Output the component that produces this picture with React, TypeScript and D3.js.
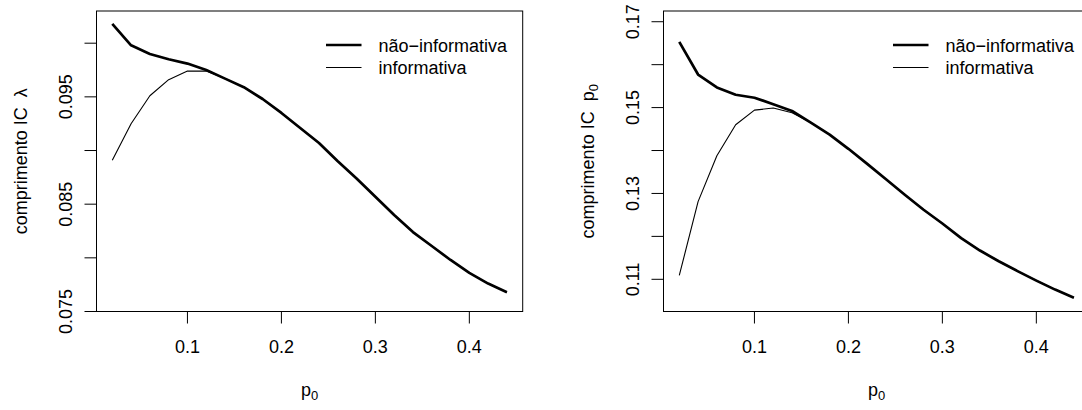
import React from 'react';
import * as d3 from 'd3';

// p0 grid
const p0 = [0.02, 0.04, 0.06, 0.08, 0.1, 0.12, 0.14, 0.16, 0.18, 0.2, 0.22,
  0.24, 0.26, 0.28, 0.3, 0.32, 0.34, 0.36, 0.38, 0.4, 0.42, 0.44];

// comprimento IC lambda
const lambdaNaoInf = [0.1018, 0.0998, 0.0990, 0.0985, 0.0981, 0.0975, 0.0967, 0.0959,
  0.0948, 0.0935, 0.0921, 0.0907, 0.0890, 0.0874, 0.0857, 0.0840, 0.0824, 0.0811,
  0.0798, 0.0786, 0.0776, 0.0768];
const lambdaInf = [0.0891, 0.0925, 0.0951, 0.0966, 0.0974, 0.0974, 0.0967, 0.0959,
  0.0948, 0.0935, 0.0921, 0.0907, 0.0890, 0.0874, 0.0857, 0.0840, 0.0824, 0.0811,
  0.0798, 0.0786, 0.0776, 0.0768];

// comprimento IC p0
const pNaoInf = [0.1653, 0.1577, 0.1547, 0.1530, 0.1523, 0.1508, 0.1492, 0.1465,
  0.1437, 0.1404, 0.1369, 0.1333, 0.1297, 0.1262, 0.1230, 0.1196, 0.1167, 0.1142,
  0.1119, 0.1097, 0.1076, 0.1057];
const pInf = [0.1109, 0.1281, 0.1388, 0.1460, 0.1494, 0.1499, 0.1488, 0.1465,
  0.1437, 0.1404, 0.1369, 0.1333, 0.1297, 0.1262, 0.1230, 0.1196, 0.1167, 0.1142,
  0.1119, 0.1097, 0.1076, 0.1057];

const xTicks = [0.1, 0.2, 0.3, 0.4];
const lambdaTicks = [0.075, 0.08, 0.085, 0.09, 0.095, 0.1];
const lambdaLabels = ['0.075', '', '0.085', '', '0.095', ''];
const pTicks = [0.11, 0.12, 0.13, 0.14, 0.15, 0.16, 0.17];
const pLabels = ['0.11', '', '0.13', '', '0.15', '', '0.17'];
const legendLabels = ['não\u2212informativa', 'informativa'];

const font = '"Liberation Sans", Arial, Helvetica, sans-serif';
const fs = 18;

type PanelProps = {
  left: number;
  yDomain: [number, number];
  naoInf: number[];
  inf: number[];
  yTicks: number[];
  yLabels: string[];
  ylab: React.ReactNode;
};

function Panel({ left, yDomain, naoInf, inf, yTicks, yLabels, ylab }: PanelProps) {
  const top = 11;
  const bottom = 311.5;
  const width = 426.2;
  const [xmin, xmax] = d3.extent(p0) as [number, number];
  const pad = (xmax - xmin) * 0.04;
  const x = d3.scaleLinear().domain([xmin - pad, xmax + pad]).range([left, left + width]);
  const y = d3.scaleLinear().domain(yDomain).range([bottom, top]);
  const line = d3.line<number>().x((_, i) => x(p0[i])).y(d => y(d));
  const cy = (top + bottom) / 2;
  const cx = left + width / 2;

  return (
    <g fontFamily={font} fontSize={fs} fill="#000">
      <rect x={left} y={top} width={width} height={bottom - top} fill="none" stroke="#000" strokeWidth={1} />
      {xTicks.map(t => (
        <g key={t}>
          <line x1={x(t)} x2={x(t)} y1={bottom} y2={bottom + 12} stroke="#000" />
          <text x={x(t)} y={353} textAnchor="middle">{t.toFixed(1)}</text>
        </g>
      ))}
      {yTicks.map((t, i) => (
        <g key={t}>
          <line x1={left - 12} x2={left} y1={y(t)} y2={y(t)} stroke="#000" />
          {yLabels[i] && (
            <text transform={`translate(${left - 25},${y(t)}) rotate(-90)`} textAnchor="middle">{yLabels[i]}</text>
          )}
        </g>
      ))}
      <text x={cx} y={396} textAnchor="middle">
        p<tspan fontSize={13} dy={4}>0</tspan>
      </text>
      <text transform={`translate(${left - 70},${cy}) rotate(-90)`} textAnchor="middle">{ylab}</text>
      <path d={line(naoInf) || ''} fill="none" stroke="#000" strokeWidth={2.7} strokeLinejoin="round" />
      <path d={line(inf) || ''} fill="none" stroke="#000" strokeWidth={1.1} strokeLinejoin="round" />
      {legendLabels.map((lab, i) => (
        <g key={lab}>
          <line x1={left + 229.5} x2={left + 265} y1={45 + i * 22.5} y2={45 + i * 22.5}
            stroke="#000" strokeWidth={i === 0 ? 2.7 : 1.1} />
          <text x={left + 282} y={45 + i * 22.5 + 6.5}>{lab}</text>
        </g>
      ))}
    </g>
  );
}

export default function App() {
  return (
    <svg width={1082} height={410} style={{ position: 'absolute', left: 0, top: 0, background: '#fff' }}>
      <rect width={1082} height={410} fill="#fff" />
      <Panel
        left={96.5}
        yDomain={[0.075, 0.1030]}
        naoInf={lambdaNaoInf}
        inf={lambdaInf}
        yTicks={lambdaTicks}
        yLabels={lambdaLabels}
        ylab={<>{'comprimento IC\u00a0\u00a0\u03bb'}</>}
      />
      <Panel
        left={663.5}
        yDomain={[0.1025, 0.1725]}
        naoInf={pNaoInf}
        inf={pInf}
        yTicks={pTicks}
        yLabels={pLabels}
        ylab={<>{'comprimento IC\u00a0\u00a0p'}<tspan fontSize={13} dy={4}>0</tspan></>}
      />
    </svg>
  );
}
